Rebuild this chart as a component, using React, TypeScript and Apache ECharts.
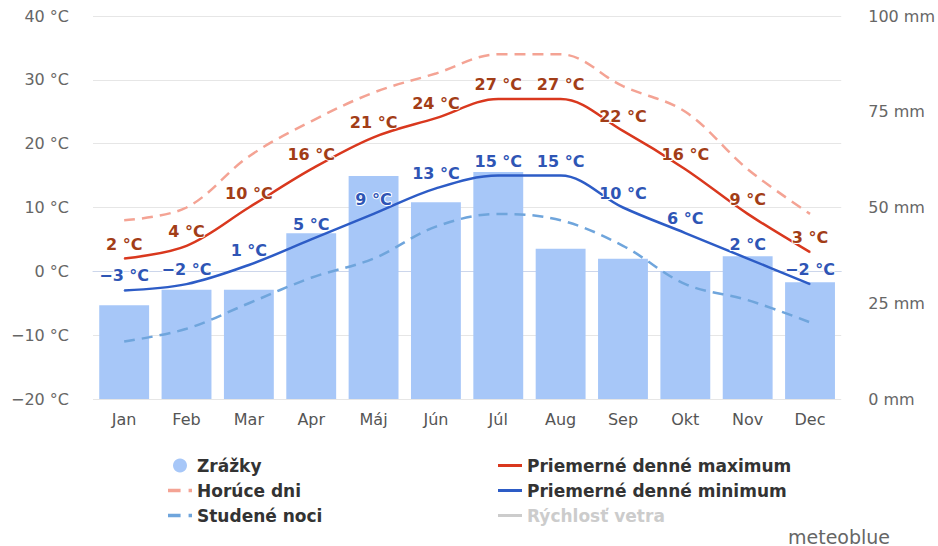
import React, { useEffect, useRef } from "react";
import * as echarts from "echarts";

const months = ["Jan", "Feb", "Mar", "Apr", "Máj", "Jún", "Júl", "Aug", "Sep", "Okt", "Nov", "Dec"];
const precipitation = [24.5, 28.5, 28.5, 43.3, 58.2, 51.4, 59.3, 39.2, 36.6, 33.4, 37.3, 30.5];
const hotDays = [8, 10, 18, 23.5, 28, 31, 34, 34, 29, 25, 16, 9];
const coldNights = [-11, -9, -5, -1, 2, 7, 9, 8, 4, -2, -4.5, -8];
const maxTemp = [2, 4, 10, 16, 21, 24, 27, 27, 22, 16, 9, 3];
const minTemp = [-3, -2, 1, 5, 9, 13, 15, 15, 10, 6, 2, -2];

const FONT = "DejaVu Sans";
const minus = (v: number) => String(v).replace("-", "\u2212");

const lineIcon = "path://M0,0H24V3H0Z";
const dashIcon = "path://M0,0H11V3H0Z M18,0H21V3H18Z";

export default function App() {
  const ref = useRef<HTMLDivElement>(null);
  useEffect(() => {
    if (!ref.current) return;
    const chart = echarts.init(ref.current, null, { renderer: "svg" });
    const labelCommon = {
      show: true,
      position: "top" as const,
      distance: 6,
      fontSize: 16,
      fontWeight: "bold" as const,
      fontFamily: FONT,
      textBorderColor: "#fff",
      textBorderWidth: 2,
      formatter: (p: any) => minus(p.value) + " °C",
    };
    const legendText = { fontSize: 17, fontWeight: "bold" as const, color: "#333", fontFamily: FONT };
    chart.setOption({
      animation: false,
      backgroundColor: "#fff",
      grid: { left: 93, right: 95, top: 16, bottom: 147 },
      xAxis: {
        type: "category",
        data: months,
        axisLine: { lineStyle: { color: "#ccd6eb" } },
        axisTick: { show: false },
        axisLabel: { color: "#555", fontSize: 16, fontFamily: FONT, margin: 12 },
      },
      yAxis: [
        {
          type: "value",
          min: -20,
          max: 40,
          interval: 10,
          axisLabel: {
            color: "#666",
            fontSize: 16,
            fontFamily: FONT,
            margin: 24,
            formatter: (v: number) => minus(v) + " °C",
          },
          splitLine: { lineStyle: { color: "#e6e6e6", width: 1 } },
          axisLine: { show: false },
          axisTick: { show: false },
        },
        {
          type: "value",
          min: 0,
          max: 100,
          interval: 25,
          position: "right",
          axisLabel: {
            color: "#666",
            fontSize: 16,
            fontFamily: FONT,
            margin: 27,
            formatter: (v: number) => v + " mm",
          },
          splitLine: { show: false },
          axisLine: { show: false },
          axisTick: { show: false },
        },
      ],
      legend: [
        {
          orient: "vertical",
          left: 163,
          top: 452,
          itemWidth: 24,
          itemHeight: 14,
          itemGap: 8,
          textStyle: legendText,
          data: [
            { name: "Zrážky", icon: "circle" },
            { name: "Horúce dni", icon: dashIcon },
            { name: "Studené noci", icon: dashIcon },
          ],
        },
        {
          orient: "vertical",
          left: 493,
          top: 452,
          itemWidth: 24,
          itemHeight: 14,
          itemGap: 8,
          inactiveColor: "#ccc",
          textStyle: legendText,
          selected: { "Rýchlosť vetra": false },
          data: [
            { name: "Priemerné denné maximum", icon: lineIcon },
            { name: "Priemerné denné minimum", icon: lineIcon },
            { name: "Rýchlosť vetra", icon: lineIcon },
          ],
        },
      ],
      graphic: [
        {
          type: "text",
          left: 788,
          top: 527,
          style: { text: "meteoblue", fontSize: 19, fill: "#666", fontFamily: FONT },
        },
      ],
      series: [
        {
          name: "Zrážky",
          type: "bar",
          yAxisIndex: 1,
          data: precipitation,
          barCategoryGap: "20%",
          itemStyle: { color: "#a7c7f8" },
          z: 1,
        },
        {
          name: "Horúce dni",
          type: "line",
          data: hotDays,
          smooth: 0.35,
          symbol: "none",
          color: "#f4a394",
          lineStyle: { color: "#f4a394", width: 2.5, type: [11, 7] },
          z: 2,
        },
        {
          name: "Studené noci",
          type: "line",
          data: coldNights,
          smooth: 0.35,
          symbol: "none",
          color: "#6fa5dc",
          lineStyle: { color: "#6fa5dc", width: 2.5, type: [11, 7] },
          z: 2,
        },
        {
          name: "Priemerné denné maximum",
          type: "line",
          data: maxTemp,
          smooth: 0.35,
          symbol: "circle",
          symbolSize: 1,
          color: "#d9381e",
          itemStyle: { color: "#d9381e" },
          lineStyle: { color: "#d9381e", width: 2.5 },
          label: { ...labelCommon, color: "#a23d17" },
          z: 3,
        },
        {
          name: "Priemerné denné minimum",
          type: "line",
          data: minTemp,
          smooth: 0.35,
          symbol: "circle",
          symbolSize: 1,
          color: "#2d5cc6",
          itemStyle: { color: "#2d5cc6" },
          lineStyle: { color: "#2d5cc6", width: 2.5 },
          label: { ...labelCommon, color: "#2e55b5" },
          z: 3,
        },
        {
          name: "Rýchlosť vetra",
          type: "line",
          data: [],
          color: "#cccccc",
          symbol: "none",
        },
      ],
    });
    return () => chart.dispose();
  }, []);
  return (
    <div
      ref={ref}
      style={{ position: "fixed", left: 0, top: 0, width: 938, height: 546 }}
    />
  );
}
